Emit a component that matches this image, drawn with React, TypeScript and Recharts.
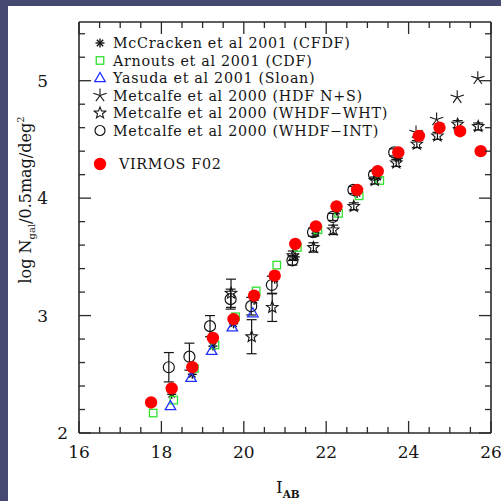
import React from 'react';
import { ScatterChart, Scatter, XAxis, YAxis, ErrorBar } from 'recharts';

// ---------- data ----------
const virmosX = [17.75, 18.25, 18.75, 19.25, 19.75, 20.25, 20.75, 21.25, 21.75, 22.25, 22.75, 23.25, 23.75, 24.25, 24.75, 25.25, 25.75];
const virmosY = [2.26, 2.38, 2.56, 2.81, 2.97, 3.17, 3.34, 3.61, 3.76, 3.93, 4.07, 4.23, 4.39, 4.53, 4.60, 4.57, 4.40];

const mccX = [18.25, 18.75, 19.25, 19.75, 20.25, 20.75, 21.25, 21.75, 22.25, 22.75, 23.25, 23.75];
const mccY = [2.33, 2.50, 2.74, 2.93, 3.13, 3.31, 3.50, 3.70, 3.89, 4.04, 4.18, 4.34];

const arnX = [17.8, 18.3, 18.8, 19.3, 19.8, 20.3, 20.8, 21.3, 21.8, 22.3, 22.8, 23.3];
const arnY = [2.17, 2.28, 2.55, 2.75, 2.99, 3.21, 3.43, 3.58, 3.73, 3.87, 4.02, 4.15];

const yasX = [18.22, 18.72, 19.22, 19.72, 20.22];
const yasY = [2.23, 2.47, 2.70, 2.90, 3.02];

const hdfX = [24.18, 24.68, 25.18, 25.68];
const hdfY = [4.56, 4.67, 4.86, 5.02];

const whtX = [19.69, 20.19, 20.69, 21.19, 21.69, 22.17, 22.67, 23.18, 23.70, 24.20, 24.70, 25.19, 25.69];
const whtY = [3.19, 2.82, 3.07, 3.51, 3.58, 3.73, 3.93, 4.15, 4.30, 4.46, 4.53, 4.63, 4.61];
const whtErr = [0.12, 0.145, 0.12, 0.04, 0.04, 0.04, 0.03, 0.03, 0.03, 0.03, 0.03, 0.03, 0.03];

const intX = [18.18, 18.68, 19.18, 19.68, 20.18, 20.68, 21.18, 21.68, 22.16, 22.66, 23.16, 23.65];
const intY = [2.56, 2.65, 2.91, 3.14, 3.08, 3.26, 3.47, 3.71, 3.84, 4.07, 4.20, 4.39];
const intErr = [0.125, 0.115, 0.09, 0.085, 0.075, 0.075, 0.04, 0.035, 0.03, 0.03, 0.03, 0.03];

const xTicks = [16, 16.5, 17, 17.5, 18, 18.5, 19, 19.5, 20, 20.5, 21, 21.5, 22, 22.5, 23, 23.5, 24, 24.5, 25, 25.5, 26];
const yTicks = [2, 2.2, 2.4, 2.6, 2.8, 3, 3.2, 3.4, 3.6, 3.8, 4, 4.2, 4.4, 4.6, 4.8, 5, 5.2, 5.4];

const legendLabels = [
  'McCracken et al 2001 (CFDF)',
  'Arnouts et al 2001 (CDF)',
  'Yasuda et al 2001 (Sloan)',
  'Metcalfe et al 2000 (HDF N+S)',
  'Metcalfe et al 2000 (WHDF\u2212WHT)',
  'Metcalfe et al 2000 (WHDF\u2212INT)',
];
const virmosLabel = 'VIRMOS F02';

const zip = (xs: number[], ys: number[], es?: number[]) =>
  xs.map((x, i) => ({ x, y: ys[i], err: es ? es[i] : 0 }));

const virmosData = zip(virmosX, virmosY);
const mccData = zip(mccX, mccY);
const arnData = zip(arnX, arnY);
const yasData = zip(yasX, yasY);
const hdfData = zip(hdfX, hdfY);
const whtData = zip(whtX, whtY, whtErr);
const intData = zip(intX, intY, intErr);

// ---------- styles ----------
const FONT = '"DejaVu Serif", serif';
const INK = '#151515';
const GREEN = '#2fe02f';
const BLUE = '#2030ff';
const RED = '#ff0000';
const FRAME = '#2a2a2a';

// ---------- symbols ----------
const Asterisk8 = ({ cx, cy, r = 4.5 }: any) => {
  const lines = [0, 45, 90, 135].map((a) => {
    const t = (a * Math.PI) / 180;
    return (
      <line key={a} x1={cx - r * Math.cos(t)} y1={cy - r * Math.sin(t)} x2={cx + r * Math.cos(t)} y2={cy + r * Math.sin(t)} stroke={INK} strokeWidth={1.4} />
    );
  });
  return <g>{lines}</g>;
};
const Square = ({ cx, cy, s = 7.5 }: any) => (
  <rect x={cx - s / 2} y={cy - s / 2} width={s} height={s} fill="none" stroke={GREEN} strokeWidth={1.3} />
);
const Triangle = ({ cx, cy, r = 5.5 }: any) => (
  <polygon points={`${cx},${cy - r} ${cx - r * 0.95},${cy + r * 0.65} ${cx + r * 0.95},${cy + r * 0.65}`} fill="none" stroke={BLUE} strokeWidth={1.3} />
);
const Skeletal5 = ({ cx, cy, r = 7 }: any) => {
  const lines = [0, 1, 2, 3, 4].map((i) => {
    const t = ((-90 + i * 72) * Math.PI) / 180;
    return <line key={i} x1={cx} y1={cy} x2={cx + r * Math.cos(t)} y2={cy + r * Math.sin(t)} stroke={INK} strokeWidth={1.1} />;
  });
  return <g>{lines}</g>;
};
const OpenStar = ({ cx, cy, R = 6, r = 2.6 }: any) => {
  const pts: string[] = [];
  for (let i = 0; i < 10; i++) {
    const rad = i % 2 === 0 ? R : r;
    const t = ((-90 + i * 36) * Math.PI) / 180;
    pts.push(`${cx + rad * Math.cos(t)},${cy + rad * Math.sin(t)}`);
  }
  return <polygon points={pts.join(' ')} fill="none" stroke={INK} strokeWidth={1.1} />;
};
const OpenCircle = ({ cx, cy, r = 5.5 }: any) => <circle cx={cx} cy={cy} r={r} fill="none" stroke={INK} strokeWidth={1.2} />;
const RedDot = ({ cx, cy, r = 6.2 }: any) => <circle cx={cx} cy={cy} r={r} fill={RED} stroke="none" />;

// ---------- ticks ----------
const isMajorX = (v: number) => Math.abs(v / 2 - Math.round(v / 2)) < 1e-6;
const isMajorY = (v: number) => Math.abs(v - Math.round(v)) < 1e-6;

const BottomTick = (props: any) => {
  const { x, y, payload } = props;
  const v = payload.value;
  const major = isMajorX(v);
  return (
    <g>
      <line x1={x} x2={x} y1={y} y2={y - (major ? 12 : 6)} stroke={FRAME} strokeWidth={1.3} />
      {major && (
        <text x={x} y={y + 25} textAnchor="middle" fontFamily={FONT} fontSize={17} fill={INK}>
          {v}
        </text>
      )}
    </g>
  );
};
const TopTick = (props: any) => {
  const { x, y, payload } = props;
  const major = isMajorX(payload.value);
  return <line x1={x} x2={x} y1={y} y2={y + (major ? 12 : 6)} stroke={FRAME} strokeWidth={1.3} />;
};
const LeftTick = (props: any) => {
  const { x, y, payload } = props;
  const v = payload.value;
  const major = isMajorY(v);
  const labelRight = v === 2 ? x - 11 : x - 31;
  return (
    <g>
      <line x1={x} x2={x + (major ? 12 : 6)} y1={y} y2={y} stroke={FRAME} strokeWidth={1.3} />
      {major && (
        <text x={labelRight} y={y + 6} textAnchor="end" fontFamily={FONT} fontSize={17} fill={INK}>
          {Math.round(v)}
        </text>
      )}
    </g>
  );
};
const RightTick = (props: any) => {
  const { x, y, payload } = props;
  const major = isMajorY(payload.value);
  return <line x1={x} x2={x - (major ? 12 : 6)} y1={y} y2={y} stroke={FRAME} strokeWidth={1.3} />;
};

const axisLine = { stroke: FRAME, strokeWidth: 1.6 };

export default function App() {
  const legendSymbols = [
    (cx: number, cy: number) => <Asterisk8 cx={cx} cy={cy} />,
    (cx: number, cy: number) => <Square cx={cx} cy={cy} />,
    (cx: number, cy: number) => <Triangle cx={cx} cy={cy} />,
    (cx: number, cy: number) => <Skeletal5 cx={cx} cy={cy} />,
    (cx: number, cy: number) => <OpenStar cx={cx} cy={cy} />,
    (cx: number, cy: number) => <OpenCircle cx={cx} cy={cy} r={5} />,
  ];
  const rowY = [43, 60.5, 78, 95.5, 113, 130.5];

  return (
    <div style={{ position: 'fixed', left: 0, top: 0, width: 501, height: 501, background: '#464a72', overflow: 'hidden' }}>
      <div style={{ position: 'absolute', left: 8, top: 6, right: 0, bottom: 0, background: '#ffffff' }} />
      <div style={{ position: 'absolute', left: 0, top: 0 }}>
        <ScatterChart width={501} height={501} margin={{ top: 0, right: 0, bottom: 0, left: 0 }}>
          <XAxis xAxisId="b" type="number" dataKey="x" orientation="bottom" domain={[16, 26]} ticks={xTicks} interval={0}
            height={68} allowDataOverflow axisLine={axisLine} tickLine={false} tickSize={0} tickMargin={0} tick={<BottomTick />} />
          <XAxis xAxisId="t" type="number" dataKey="x" orientation="top" domain={[16, 26]} ticks={xTicks} interval={0}
            height={22} allowDataOverflow axisLine={axisLine} tickLine={false} tickSize={0} tickMargin={0} tick={<TopTick />} />
          <YAxis yAxisId="l" type="number" dataKey="y" orientation="left" domain={[2, 5.5]} ticks={yTicks} interval={0}
            width={79} allowDataOverflow axisLine={axisLine} tickLine={false} tickSize={0} tickMargin={0} tick={<LeftTick />} />
          <YAxis yAxisId="r" type="number" dataKey="y" orientation="right" domain={[2, 5.5]} ticks={yTicks} interval={0}
            width={10} allowDataOverflow axisLine={axisLine} tickLine={false} tickSize={0} tickMargin={0} tick={<RightTick />} />

          <Scatter xAxisId="t" yAxisId="r" data={[]} isAnimationActive={false} />
          <Scatter xAxisId="b" yAxisId="l" data={mccData} isAnimationActive={false} shape={(p: any) => <Asterisk8 cx={p.cx} cy={p.cy} />} />
          <Scatter xAxisId="b" yAxisId="l" data={arnData} isAnimationActive={false} shape={(p: any) => <Square cx={p.cx} cy={p.cy} />} />
          <Scatter xAxisId="b" yAxisId="l" data={yasData} isAnimationActive={false} shape={(p: any) => <Triangle cx={p.cx} cy={p.cy} />} />
          <Scatter xAxisId="b" yAxisId="l" data={hdfData} isAnimationActive={false} shape={(p: any) => <Skeletal5 cx={p.cx} cy={p.cy} />} />
          <Scatter xAxisId="b" yAxisId="l" data={whtData} isAnimationActive={false} shape={(p: any) => <OpenStar cx={p.cx} cy={p.cy} />}>
            <ErrorBar dataKey="err" direction="y" width={5} stroke={INK} strokeWidth={1.2} isAnimationActive={false} />
          </Scatter>
          <Scatter xAxisId="b" yAxisId="l" data={intData} isAnimationActive={false} shape={(p: any) => <OpenCircle cx={p.cx} cy={p.cy} />}>
            <ErrorBar dataKey="err" direction="y" width={5} stroke={INK} strokeWidth={1.2} isAnimationActive={false} />
          </Scatter>
          <Scatter xAxisId="b" yAxisId="l" data={virmosData} isAnimationActive={false} shape={(p: any) => <RedDot cx={p.cx} cy={p.cy} />} />
        </ScatterChart>
      </div>
      <svg width={501} height={501} style={{ position: 'absolute', left: 0, top: 0, pointerEvents: 'none' }}>
        {legendLabels.map((lab, i) => (
          <g key={lab}>
            {legendSymbols[i](100, rowY[i])}
            <text x={113} y={rowY[i] + 5} fontFamily={FONT} fontSize={14.3} letterSpacing={0.7} fill={INK}>{lab}</text>
          </g>
        ))}
        <RedDot cx={100} cy={164} />
        <text x={119} y={169} fontFamily={FONT} fontSize={14.3} letterSpacing={0.7} fill={INK}>{virmosLabel}</text>

        <text transform="translate(31,200) rotate(-90)" textAnchor="middle" fontFamily={FONT} fontSize={16} fill={INK}>
          <tspan>log N</tspan>
          <tspan fontSize={10} dy={4}>gal</tspan>
          <tspan dy={-4}>/0.5mag/deg</tspan>
          <tspan fontSize={10} dy={-7}>2</tspan>
        </text>

        <text x={276} y={493} fontFamily={FONT} fontSize={17} fill={INK}>
          <tspan>I</tspan>
          <tspan fontSize={10.5} fontWeight="bold" dy={5}>AB</tspan>
        </text>
      </svg>
    </div>
  );
}
